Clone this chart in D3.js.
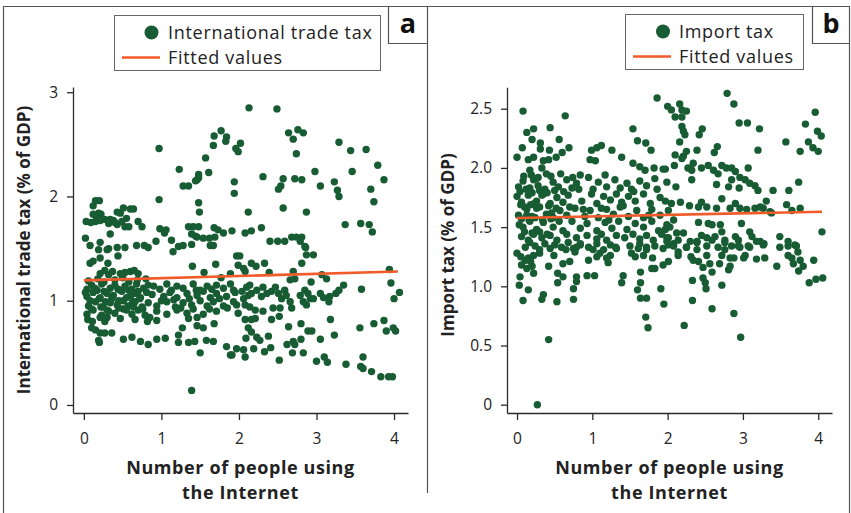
<!DOCTYPE html>
<html><head><meta charset="utf-8">
<script src="https://cdn.jsdelivr.net/npm/d3@7"></script>
<style>
html,body{margin:0;padding:0;background:#fff;}
svg{display:block;font-family:"Open Sans",sans-serif;}
</style></head><body>
<svg id="chart" width="851" height="513"></svg>
<script>
// ---------------- DATA ----------------
const xTicks = [0, 1, 2, 3, 4];
const xTickLabels = ["0", "1", "2", "3", "4"];
const yTicksA = [0, 1, 2, 3];
const yTickLabelsA = ["0", "1", "2", "3"];
const yTicksB = [0, 0.5, 1.0, 1.5, 2.0, 2.5];
const yTickLabelsB = ["0", "0.5", "1.0", "1.5", "2.0", "2.5"];
const legendA = ["International trade tax", "Fitted values"];
const legendB = ["Import tax", "Fitted values"];
const xTitle = ["Number of people using", "the Internet"];
const yTitleA = "International trade tax (% of GDP)";
const yTitleB = "Import tax (% of GDP)";
const fittedA = [[0, 1.195], [4.05, 1.28]];
const fittedB = [[0, 1.577], [4.05, 1.63]];

// panel a: international trade tax
const tradeTaxPoints = [
[0.97,2.46],[1.77,2.63],[1.68,2.58],[1.84,2.57],[1.83,2.53],[1.67,2.49],[1.96,2.46],[1.99,2.43],[2.02,2.51],[1.57,2.37],[1.23,2.26],[1.61,2.23],[1.48,2.21],[1.48,2.18],[1.44,2.15],[1.46,2.16],[1.28,2.10],[1.35,2.10],[1.94,2.14],[1.94,2.03],[0.97,1.97],[1.48,1.94],[1.49,1.85],
[0.15,1.96],[0.20,1.96],[0.12,1.91],[0.51,1.89],[0.60,1.88],[0.64,1.88],[0.43,1.85],[0.47,1.84],[0.12,1.83],[0.19,1.84],[0.16,1.81],[0.22,1.83],
[0.03,1.76],[0.09,1.75],[0.15,1.76],[0.21,1.77],[0.27,1.78],[0.34,1.78],[0.38,1.77],[0.32,1.74],[0.43,1.73],[0.49,1.76],[0.55,1.79],[0.40,1.75],[0.53,1.71],[0.58,1.71],[0.70,1.76],[0.75,1.71],[0.34,1.64],[0.02,1.60],
[0.08,1.53],[0.21,1.56],[0.32,1.50],[0.43,1.51],[0.53,1.51],[0.68,1.53],[0.78,1.53],[0.83,1.51],[0.93,1.57],[1.13,1.58],[1.22,1.52],[1.28,1.53],[1.39,1.54],
[0.98,1.69],[1.04,1.65],[1.06,1.68],[1.35,1.71],[1.41,1.71],[1.48,1.71],[1.39,1.64],[1.44,1.62],[1.46,1.61],[1.54,1.60],[1.62,1.60],[1.69,1.61],[1.67,1.53],[1.63,1.53],[1.68,1.70],[1.73,1.68],[1.80,1.65],[1.91,1.67],
[2.13,2.85],[2.49,2.84],[2.64,2.61],[2.76,2.64],[2.83,2.61],[2.70,2.55],[2.74,2.41],[3.29,2.52],[3.44,2.44],[3.64,2.45],[3.79,2.30],[3.46,2.24],[3.87,2.16],[2.98,2.24],[2.31,2.19],[2.57,2.17],[2.72,2.17],[2.81,2.16],[2.54,2.10],[2.51,2.07],[3.05,2.10],[3.23,2.14],[3.27,2.06],[3.29,2.00],[3.70,2.07],[3.74,1.95],[2.12,1.85],[2.57,1.89],[2.87,1.85],[2.08,1.65],[2.16,1.67],[2.29,1.70],[2.40,1.57],[2.50,1.57],[2.59,1.57],[2.68,1.61],[2.74,1.61],[2.81,1.61],[2.79,1.57],[2.85,1.52],[3.37,1.73],[3.57,1.74],[3.68,1.73],[3.72,1.66],
[0.19,1.49],[0.30,1.49],[0.44,1.43],[1.15,1.47],[0.08,1.36],[0.12,1.38],[0.21,1.41],[0.31,1.36],[1.40,1.33],[1.70,1.35],[1.97,1.43],[1.55,1.27],
[0.21,1.26],[0.27,1.29],[0.32,1.25],[0.37,1.28],[0.47,1.26],[0.53,1.27],[0.60,1.28],[0.65,1.29],[0.70,1.26],[1.77,1.22],[1.89,1.26],
[0.04,1.11],[0.10,1.15],[0.17,1.10],[0.23,1.16],[0.34,1.12],[0.40,1.15],[0.47,1.10],[0.53,1.14],[0.62,1.11],[0.68,1.16],[0.77,1.12],[0.83,1.15],[0.98,1.11],[1.07,1.16],[1.13,1.10],[1.20,1.14],[1.28,1.12],[1.41,1.16],[1.50,1.10],[1.59,1.14],[1.65,1.11],[1.71,1.15],[1.80,1.12],[1.89,1.16],
[0.04,1.04],[0.12,1.08],[0.21,1.03],[0.30,1.07],[0.38,1.05],[0.49,1.09],[0.60,1.04],[0.66,1.07],[0.73,1.03],[0.81,1.08],[1.03,1.04],[1.11,1.08],[1.20,1.03],[1.33,1.07],[1.46,1.05],[1.54,1.09],[1.63,1.03],[1.71,1.07],[1.84,1.04],[1.95,1.08],
[0.06,0.95],[0.15,0.99],[0.25,0.94],[0.34,0.98],[0.43,0.96],[0.51,1.00],[0.57,0.95],[0.66,0.99],[0.75,0.94],[0.83,0.98],[0.94,0.95],[1.07,0.99],[1.18,0.94],[1.28,0.98],[1.39,0.96],[1.50,1.00],[1.59,0.95],[1.67,0.99],[1.80,0.95],
[0.04,0.87],[0.12,0.91],[0.23,0.86],[0.32,0.90],[0.40,0.88],[0.51,0.92],[0.62,0.87],[0.70,0.91],[0.79,0.86],[0.94,0.90],[1.07,0.87],[1.20,0.91],[1.33,0.88],[1.41,0.92],[1.54,0.87],[1.71,0.90],
[0.21,0.84],[0.30,0.84],[0.85,0.84],[1.35,0.83],[1.46,0.84],
[0.08,1.00],[0.20,1.02],[0.28,0.99],[0.36,1.02],[0.45,1.00],[0.55,1.03],[0.63,0.99],[0.72,1.02],
[0.06,1.19],[0.18,1.21],[0.26,1.18],[0.40,1.20],[0.50,1.22],[0.58,1.18],[0.69,1.20],[0.80,1.21],
[0.10,0.92],[0.22,0.94],[0.30,0.91],[0.45,0.93],[0.55,0.91],[0.64,0.94],[0.76,0.92],
[0.02,1.08],[0.14,1.12],[0.26,1.09],[0.44,1.11],[0.58,1.10],[0.70,1.09],[0.88,1.06],[0.90,1.14],[1.00,1.00],[1.16,1.01],[1.25,0.93],[1.36,1.02],[1.45,1.10],[1.62,0.92],[1.75,1.02],[1.85,0.93],[0.05,0.82],[0.27,0.80],[0.47,0.83],[0.66,0.82],
[0.11,0.80],[0.10,0.74],[0.15,0.72],[0.21,0.69],[0.27,0.69],[0.36,0.69],[0.19,0.62],[0.20,0.60],[0.51,0.63],[0.62,0.65],[0.73,0.61],[0.83,0.58],[0.94,0.63],[1.05,0.64],[1.22,0.67],[1.22,0.60],[1.35,0.60],[1.43,0.61],[1.58,0.62],[1.67,0.61],[1.27,0.74],[1.46,0.76],[1.54,0.74],[1.68,0.78],[0.82,0.80],[0.94,0.81],[1.50,0.50],[1.84,0.56],[1.89,0.48],[1.97,0.54],[1.39,0.14],
[2.01,1.43],[2.16,1.36],[2.22,1.33],[2.33,1.36],[2.39,1.27],[1.99,1.34],[2.06,1.31],[2.08,1.28],[2.86,1.51],[2.87,1.44],[2.96,1.44],[2.81,1.36],[2.70,1.28],[2.66,1.20],[2.72,1.21],[3.07,1.25],[3.13,1.21],[2.93,1.18],[3.94,1.30],[3.96,1.17],[4.07,1.08],[4.00,1.02],[3.58,1.11],[3.35,1.15],[3.29,1.10],[3.25,1.07],[3.17,1.04],[3.16,0.99],[3.05,1.07],[3.09,1.03],
[1.93,1.10],[2.04,1.09],[2.10,1.13],[2.14,1.15],[2.06,1.02],[2.12,1.05],[2.16,1.07],[2.23,1.10],[2.29,1.04],[2.31,1.13],[2.36,1.07],[2.42,1.09],[2.47,1.13],[2.51,1.07],[2.55,1.02],[2.59,1.10],[2.61,1.05],[2.66,0.99],[2.68,0.93],[2.53,0.93],[2.44,0.93],[2.31,0.90],[2.21,0.91],[2.14,0.94],[2.08,0.96],[1.97,0.96],[1.93,0.99],[1.99,0.88],[2.79,1.05],[2.85,1.10],[2.89,1.07],[2.92,1.02],[2.96,1.02],[2.87,0.96],[2.83,0.99],
[2.08,0.82],[2.16,0.82],[2.21,0.83],[2.12,0.74],[2.16,0.70],[2.23,0.65],[2.27,0.62],[2.09,0.64],[2.06,0.53],[2.08,0.46],[1.91,0.48],[2.19,0.54],[2.33,0.51],[2.41,0.55],[2.38,0.66],[2.52,0.43],[2.42,0.82],[2.52,0.85],[2.64,0.75],[2.80,0.78],[2.89,0.71],[2.94,0.71],[3.05,0.63],[2.80,0.63],[2.70,0.61],[2.62,0.58],[2.72,0.58],[2.69,0.50],[2.83,0.50],[3.00,0.42],[3.10,0.46],[3.14,0.41],[3.18,0.82],[3.23,0.67],[3.38,0.39],[3.56,0.74],[3.74,0.78],[3.87,0.81],[3.90,0.71],[3.99,0.74],[4.02,0.71],[3.60,0.46],[3.57,0.37],[3.60,0.35],[3.71,0.32],[3.83,0.27],[3.93,0.27],[3.98,0.27]
];

// panel b: import tax
const importTaxPoints = [
[0.08,2.48],[0.64,2.44],[1.86,2.59],[2.00,2.52],[2.05,2.49],[2.16,2.54],[2.19,2.49],[2.25,2.48],[2.10,2.43],[2.19,2.43],[2.79,2.63],[2.88,2.54],[3.96,2.47],
[0.13,2.30],[0.22,2.33],[0.44,2.34],[0.20,2.24],[0.31,2.21],[0.56,2.24],[0.07,2.17],[0.00,2.09],[0.31,2.16],[0.43,2.15],[0.60,2.13],[0.52,2.09],[0.69,2.17],[1.54,2.33],[1.60,2.23],[1.71,2.21],[1.78,2.15],[0.99,2.15],[1.06,2.17],[1.12,2.19],[1.26,2.15],[0.97,2.07],[1.04,2.06],[1.39,2.09],[1.54,2.04],[1.63,2.01],[1.70,1.98],[1.82,2.00],[1.97,1.99],[1.83,1.91],[0.15,2.07],[0.22,2.09],[0.35,2.06],[0.42,2.07],[0.17,1.98],[0.33,2.00],[0.39,1.95],[0.26,1.91],[0.74,1.92],[0.84,1.94],[0.95,1.92],[1.17,1.94],
[2.19,2.35],[2.21,2.31],[2.16,2.22],[2.23,2.28],[2.46,2.33],[2.42,2.28],[2.95,2.38],[3.06,2.38],[3.22,2.33],[3.83,2.37],[3.99,2.31],[4.04,2.27],[3.87,2.22],[3.93,2.17],[4.00,2.14],[3.76,2.14],[3.57,2.22],[3.20,2.15],[2.66,2.18],[2.62,2.13],[2.39,2.15],[2.10,2.11],[2.21,2.10],[2.25,2.14],[2.19,2.08],
[1.94,1.99],[2.09,2.02],[2.27,2.00],[2.34,2.04],[2.32,1.98],[2.45,2.00],[2.54,2.02],[2.61,1.98],[2.67,1.95],[2.72,2.02],[2.78,2.00],[2.85,2.00],[2.90,1.97],[3.07,2.00],
[2.32,1.90],[2.65,1.86],[2.81,1.84],[2.85,1.90],[2.96,1.92],[3.03,1.90],[3.09,1.87],[3.16,1.85],[3.20,1.81],[2.95,1.83],[2.11,1.84],[3.40,1.81],[3.61,1.81],[3.74,1.88],
[2.72,1.74],[2.90,1.70],[2.96,1.66],[2.83,1.66],[2.65,1.66],[2.52,1.67],[2.45,1.71],[2.41,1.67],[2.29,1.68],[2.17,1.71],[2.05,1.70],[1.97,1.72],[3.05,1.65],[3.16,1.66],[3.23,1.67],[3.31,1.72],[3.27,1.66],[3.36,1.63],[3.58,1.69],[3.65,1.64],[3.76,1.66],[3.38,1.62],
[2.08,1.56],[2.03,1.50],[1.97,1.48],[2.12,1.45],[2.21,1.45],[2.41,1.54],[2.54,1.53],[2.59,1.52],[2.70,1.52],[2.72,1.46],[2.63,1.42],[2.45,1.43],[2.52,1.41],[2.39,1.37],[2.30,1.38],[2.25,1.33],[2.08,1.36],[1.99,1.41],[2.98,1.53],[3.09,1.46],[3.12,1.42],[3.23,1.38],[3.28,1.36],[3.07,1.34],[2.94,1.34],[2.90,1.42],[2.76,1.39],[3.49,1.42],[3.60,1.34],[3.71,1.34],[4.05,1.46],
[0.02,1.84],[0.08,1.89],[0.17,1.83],[0.22,1.90],[0.28,1.85],[0.37,1.82],[0.48,1.88],[0.55,1.84],[0.66,1.90],[0.73,1.83],[0.79,1.87],[1.01,1.82],[1.08,1.88],[1.19,1.84],[1.30,1.90],[1.37,1.83],[1.46,1.87],[1.52,1.82],[1.63,1.89],[1.72,1.85],[1.86,1.82],[1.99,1.88],
[0.00,1.76],[0.06,1.71],[0.15,1.77],[0.26,1.72],[0.35,1.78],[0.44,1.70],[0.53,1.75],[0.61,1.71],[0.68,1.77],[0.86,1.72],[0.99,1.78],[1.06,1.70],[1.15,1.76],[1.24,1.73],[1.32,1.78],[1.39,1.71],[1.48,1.76],[1.57,1.72],[1.68,1.78],[1.77,1.70],[1.90,1.75],
[0.02,1.60],[0.13,1.65],[0.20,1.59],[0.26,1.66],[0.39,1.61],[0.48,1.58],[0.57,1.64],[0.66,1.60],[0.77,1.66],[0.90,1.59],[0.97,1.64],[1.08,1.58],[1.19,1.65],[1.28,1.61],[1.37,1.67],[1.48,1.59],[1.59,1.64],[1.68,1.58],[1.79,1.65],[1.90,1.60],[2.01,1.64],
[0.08,1.50],[0.17,1.55],[0.26,1.48],[0.35,1.54],[0.48,1.50],[0.61,1.47],[0.73,1.55],[0.84,1.49],[0.93,1.53],[1.06,1.47],[1.17,1.54],[1.26,1.49],[1.35,1.55],[1.46,1.48],[1.57,1.53],[1.68,1.50],[1.79,1.55],[1.88,1.47],[1.99,1.52],
[0.06,1.42],[0.15,1.39],[0.22,1.44],[0.33,1.41],[0.44,1.43],[0.53,1.39],[0.66,1.44],[0.79,1.41],[0.93,1.43],[1.06,1.40],[1.12,1.44],[1.19,1.39],[1.32,1.43],[1.43,1.41],[1.54,1.44],[1.63,1.40],[1.72,1.43],[1.81,1.39],[1.92,1.44],[2.01,1.41],
[0.04,1.80],[0.12,1.82],[0.20,1.79],[0.30,1.81],[0.40,1.79],[0.50,1.81],[0.05,1.69],[0.10,1.67],[0.18,1.69],[0.30,1.67],[0.42,1.68],[0.52,1.66],[0.06,1.57],[0.16,1.56],[0.24,1.58],[0.34,1.56],[0.45,1.57],[0.10,1.46],[0.20,1.45],[0.30,1.46],[0.40,1.44],
[0.09,1.93],[0.19,1.94],[0.28,1.92],[0.45,1.93],[0.58,1.95],[0.03,1.52],[0.13,1.60],[0.23,1.70],[0.33,1.77],[0.46,1.62],[0.56,1.55],[0.62,1.80],[0.70,1.67],[0.82,1.82],[0.88,1.65],[1.12,1.66],[1.22,1.56],[1.41,1.68],[1.55,1.80],[1.75,1.60],
[0.11,1.33],[0.17,1.37],[0.24,1.34],[0.30,1.31],[0.37,1.36],[0.44,1.32],[0.50,1.35],[0.59,1.33],[0.68,1.37],[0.75,1.32],[0.84,1.35],[0.95,1.33],[1.06,1.36],[1.15,1.31],[1.24,1.35],[1.32,1.32],[1.50,1.34],[1.63,1.36],[1.72,1.31],[1.83,1.34],[1.94,1.32],[2.01,1.35],
[0.00,1.28],[0.05,1.25],[0.11,1.22],[0.06,1.18],[0.13,1.15],[0.20,1.17],[0.22,1.11],[0.15,1.24],[0.22,1.26],[0.30,1.28],[0.18,1.21],
[0.04,1.08],[0.03,1.01],[0.15,0.97],[0.08,0.88],[0.42,1.17],[0.49,1.26],[0.54,1.11],[0.54,1.03],[0.61,1.08],[0.61,1.19],[0.70,1.21],[0.65,1.31],[0.79,1.33],[0.84,1.36],[0.77,1.29],[0.79,1.08],[0.79,1.04],[0.75,0.98],[0.75,0.89],[0.35,0.93],[0.33,0.89],[0.53,0.87],[0.93,1.09],[1.03,1.09],[0.95,1.22],[1.01,1.31],[1.06,1.25],[1.10,1.28],[1.19,1.24],[1.21,1.20],[1.24,1.26],[1.31,1.33],[1.41,1.09],[1.39,1.03],[1.52,1.28],[1.57,1.25],[1.68,1.26],[1.61,1.32],[1.72,1.33],[1.80,1.24],[1.79,1.15],[1.83,1.15],[1.64,1.12],[1.64,1.03],[1.60,0.97],[1.64,0.90],[1.72,0.90],[1.91,0.98],[1.94,1.18],[2.01,1.21],[1.95,0.85],[1.71,0.74],[1.74,0.65],[0.42,0.55],[0.27,0.00],
[1.99,1.38],[2.08,1.34],[2.14,1.39],[2.25,1.33],[2.39,1.38],[2.52,1.34],[2.59,1.39],[2.67,1.33],[2.76,1.37],[2.85,1.34],[2.94,1.39],[3.09,1.33],[3.18,1.38],[3.27,1.35],[3.49,1.33],[3.60,1.38],[3.69,1.35],
[2.14,1.29],[2.14,1.26],[2.31,1.25],[2.34,1.22],[2.39,1.31],[2.41,1.21],[2.52,1.26],[2.47,1.16],[2.56,1.19],[2.59,1.12],[2.69,1.19],[2.72,1.26],[2.76,1.31],[2.83,1.24],[2.88,1.24],[2.83,1.17],[2.81,1.14],[2.96,1.33],[3.03,1.26],[3.01,1.24],[3.18,1.23],[3.29,1.24],[3.45,1.17],[3.60,1.26],[3.65,1.24],[3.67,1.19],[3.73,1.29],[3.76,1.22],[3.80,1.17],[3.74,1.13],[3.94,1.22],[3.88,1.03],[3.97,1.06],[4.06,1.07],[2.33,1.05],[2.33,0.88],[2.47,1.07],[2.50,1.03],[2.51,0.98],[2.72,1.01],[2.59,0.81],[2.88,0.77],[2.22,0.67],[2.97,0.57]
];

// ---------------- DRAW ----------------
const svg = d3.select("#chart");
const DOT = "#185c33", FIT = "#f15a29", FRAME = "#555", AXIS = "#2b2b2b", TXT = "#222";

svg.append("path").attr("d","M3.5,513 V6.5 H849.5 V513").attr("fill","none").attr("stroke",FRAME).attr("stroke-width",1.2);
svg.append("line").attr("x1",427.5).attr("x2",427.5).attr("y1",6.5).attr("y2",493).attr("stroke",FRAME).attr("stroke-width",1.2);

function panel(cfg){
  const g = svg.append("g");
  const x = d3.scaleLinear().domain(cfg.xDomain).range(cfg.xRange);
  const y = d3.scaleLinear().domain(cfg.yDomain).range(cfg.yRange);

  const ya = d3.axisLeft(y).tickValues(cfg.yTicks).tickSize(6).tickSizeOuter(0).tickPadding(9)
     .tickFormat((d,i)=>cfg.yLabels[i]);
  const gy = g.append("g").attr("transform",`translate(${cfg.xRange[0]},0)`).call(ya);
  const xa = d3.axisBottom(x).tickValues(xTicks).tickSize(7).tickSizeOuter(0).tickPadding(13)
     .tickFormat((d,i)=>xTickLabels[i]);
  const gx = g.append("g").attr("transform",`translate(0,${cfg.yRange[0]})`).call(xa);
  [gx,gy].forEach(a=>{
    a.selectAll("path,line").attr("stroke",AXIS).attr("stroke-width",1.3);
    a.selectAll("text").attr("font-family","Open Sans, sans-serif").attr("font-size",15.5).attr("fill",TXT);
  });

  g.append("g").selectAll("circle").data(cfg.points).join("circle")
    .attr("cx",d=>x(d[0])).attr("cy",d=>y(d[1])).attr("r",3.7).attr("fill",DOT);

  g.append("path").datum(cfg.fit)
    .attr("d",d3.line().x(d=>x(d[0])).y(d=>y(d[1])))
    .attr("stroke",FIT).attr("stroke-width",2.6).attr("fill","none");

  const cx = (cfg.xRange[0]+cfg.xRange[1])/2;
  g.append("text").attr("x",cx).attr("y",474).attr("text-anchor","middle")
    .attr("font-weight",700).attr("font-size",18).attr("letter-spacing",0.6).attr("fill",TXT).text(xTitle[0]);
  g.append("text").attr("x",cx).attr("y",499).attr("text-anchor","middle")
    .attr("font-weight",700).attr("font-size",18).attr("letter-spacing",0.6).attr("fill",TXT).text(xTitle[1]);

  g.append("text").attr("transform",`translate(${cfg.yTitleX},${cfg.yTitleY}) rotate(-90)`)
    .attr("text-anchor","middle").attr("font-weight",700).attr("font-size",17).attr("fill",TXT).text(cfg.yTitle);

  const L = cfg.legend;
  g.append("rect").attr("x",L.x).attr("y",L.y).attr("width",L.w).attr("height",L.h)
    .attr("fill","#fff").attr("stroke","#666").attr("stroke-width",1);
  g.append("circle").attr("cx",L.mx).attr("cy",L.y+17).attr("r",7).attr("fill",DOT);
  g.append("line").attr("x1",L.lx1).attr("x2",L.lx2).attr("y1",L.y+42).attr("y2",L.y+42)
    .attr("stroke",FIT).attr("stroke-width",2.6);
  g.append("text").attr("x",L.tx).attr("y",L.y+23).attr("font-size",18).attr("letter-spacing",0.7).attr("fill",TXT).text(cfg.legendText[0]);
  g.append("text").attr("x",L.tx).attr("y",L.y+48).attr("font-size",18).attr("letter-spacing",0.7).attr("fill",TXT).text(cfg.legendText[1]);

  const B = cfg.box;
  g.append("path").attr("d",`M${B.x},6.5 V${B.y2} H${B.x2}`).attr("fill","none").attr("stroke",FRAME).attr("stroke-width",1.2);
  g.append("text").attr("x",(B.x+B.x2)/2).attr("y",33).attr("text-anchor","middle")
    .attr("font-weight",700).attr("font-size",27).attr("fill","#111").text(cfg.letter);
}

panel({
  xDomain:[-0.14,4.18], xRange:[73,408],
  yDomain:[-0.077,3.05], yRange:[413,87],
  yTicks:yTicksA, yLabels:yTickLabelsA,
  points:tradeTaxPoints, fit:fittedA,
  yTitle:yTitleA, yTitleX:30, yTitleY:250,
  legend:{x:114.5,y:15.5,w:266,h:55,mx:151.5,lx1:122,lx2:160,tx:168},
  legendText:legendA, box:{x:388.5,y2:43.5,x2:427.5}, letter:"a"
});
panel({
  xDomain:[-0.133,4.183], xRange:[507,832],
  yDomain:[-0.070,2.681], yRange:[413,87.3],
  yTicks:yTicksB, yLabels:yTickLabelsB,
  points:importTaxPoints, fit:fittedB,
  yTitle:yTitleB, yTitleX:454, yTitleY:245,
  legend:{x:625.5,y:14.5,w:178,h:55,mx:663,lx1:633,lx2:671,tx:679},
  legendText:legendB, box:{x:812.5,y2:43.5,x2:849.5}, letter:"b"
});
</script></body></html>
